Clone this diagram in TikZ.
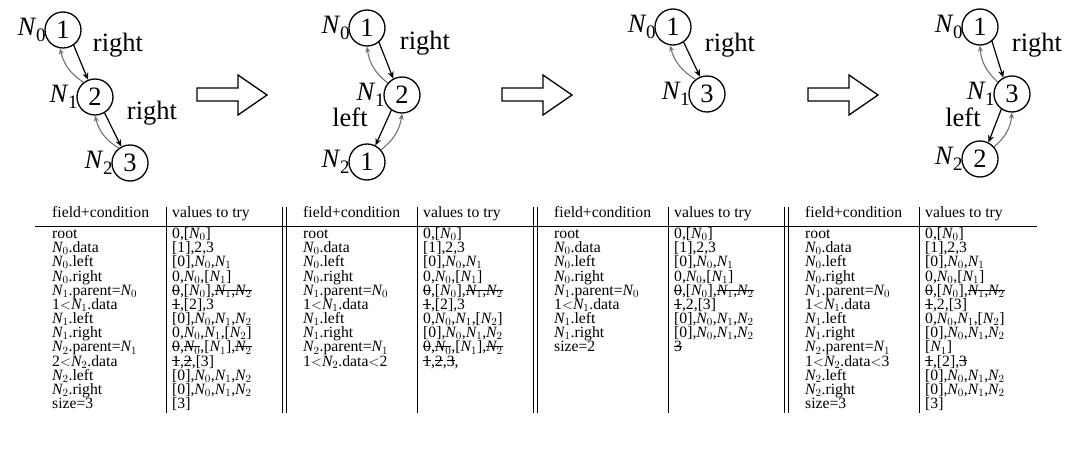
\documentclass[tikz,border=0pt]{standalone}
\usepackage{fontspec}
\setmainfont{Liberation Serif}
\usetikzlibrary{arrows.meta}
\newcommand\gfont{\fontsize{26.5}{30}\selectfont}
\newcommand\tfont{\fontsize{15.7}{17}\selectfont}
\newcommand\nn[1]{$\mathit{N}_{#1}$}
\newcommand\gn[1]{\textit{N}\kern-0.5pt\raisebox{-6pt}{\fontsize{19}{20}\selectfont #1}}
\newcommand\xo[1]{\setbox0=\hbox{#1}\rlap{\rule[0.3em]{\wd0}{0.06em}}\box0}
\tikzset{
  circ/.style={circle, draw, line width=1.3pt, minimum size=36pt, inner sep=0pt, font=\gfont},
  lab/.style={font=\gfont, inner sep=0pt},
  blk/.style={-{Stealth[length=7pt,width=6pt]}, line width=1.2pt},
  gry/.style={-{Stealth[length=6pt,width=5pt]}, line width=1.1pt, draw=black!55, fill=none},
  cell/.style={anchor=base west, inner sep=0pt, font=\tfont, text height=9.5pt, text depth=2.5pt},
  tabrule/.style={line width=0.8pt},
  bigarrow/.style={draw, line width=1.3pt, line join=miter},
}
\newcommand\tabblock[2]{%
  \node[cell] (h#1a) at (52+#1,218) {field+condition};
  \node[cell] (h#1b) at (172+#1,218) {values to try};
  \foreach \a/\b [count=\i from 0] in {#2} {
    \node[cell] (t#1r\i a) at (52+#1,238.5+14.17*\i) {\a};
    \node[cell] (t#1r\i b) at (172+#1,238.5+14.17*\i) {\b};
  }
}
\begin{document}
\begin{tikzpicture}[x=1pt,y=-1pt]
\useasboundingbox (0,0) rectangle (1072,473);
% ---------- graph 1
\node[circ] (a0) at (63,30) {1};
\node[circ] (a1) at (95,97) {2};
\node[circ] (a2) at (130,163) {3};
\node[lab,anchor=east] (a0l) at ([xshift=1.5pt]a0.west) {\gn0};
\node[lab,anchor=east] (a1l) at ([xshift=1.5pt]a1.west) {\gn1};
\node[lab,anchor=east] (a2l) at ([xshift=1.5pt]a2.west) {\gn2};
\node[lab] (a0r) at (118,45) {right};
\node[lab] (a1r) at (152,113) {right};
\draw[blk] (a0.-55) -- (a1.112);
\draw[gry] (a1.128) to[bend left=22] (a0.-99);
\draw[blk] (a1.-59) -- (a2.118);
\draw[gry] (a2.127) to[bend left=22] (a1.-90);
% ---------- graph 2
\node[circ] (b0) at (367,28) {1};
\node[circ] (b1) at (402,95) {2};
\node[circ] (b2) at (367,162) {1};
\node[lab,anchor=east] (b0l) at ([xshift=1.5pt]b0.west) {\gn0};
\node[lab,anchor=east] (b1l) at ([xshift=1.5pt]b1.west) {\gn1};
\node[lab,anchor=east] (b2l) at ([xshift=1.5pt]b2.west) {\gn2};
\node[lab] (b0r) at (425,43) {right};
\node[lab] (b1r) at (350,117) {left};
\draw[blk] (b0.-50) -- (b1.118);
\draw[gry] (b1.140) to[bend left=22] (b0.-90);
\draw[blk] (b1.-125) -- (b2.63);
\draw[gry] (b2.41) to[bend right=22] (b1.-90);
% ---------- graph 3
\node[circ] (c0) at (673,27) {1};
\node[circ] (c1) at (707,94) {3};
\node[lab,anchor=east] (c0l) at ([xshift=1.5pt]c0.west) {\gn0};
\node[lab,anchor=east] (c1l) at ([xshift=1.5pt]c1.west) {\gn1};
\node[lab] (c0r) at (730,45) {right};
\draw[blk] (c0.-55) -- (c1.112);
\draw[gry] (c1.128) to[bend left=22] (c0.-99);
% ---------- graph 4
\node[circ] (d0) at (980,27) {1};
\node[circ] (d1) at (1012,94) {3};
\node[circ] (d2) at (980,159) {2};
\node[lab,anchor=east] (d0l) at ([xshift=1.5pt]d0.west) {\gn0};
\node[lab,anchor=east] (d1l) at ([xshift=1.5pt]d1.west) {\gn1};
\node[lab,anchor=east] (d2l) at ([xshift=1.5pt]d2.west) {\gn2};
\node[lab] (d0r) at (1037,45) {right};
\node[lab] (d1r) at (963,117) {left};
\draw[blk] (d0.-50) -- (d1.118);
\draw[gry] (d1.140) to[bend left=22] (d0.-90);
\draw[blk] (d1.-125) -- (d2.63);
\draw[gry] (d2.41) to[bend right=22] (d1.-90);
% ---------- big arrows
\foreach \o in {197,502,808} {
  \draw[bigarrow] (\o,88) -- (\o+41,88) -- (\o+41,75) -- (\o+70,95) -- (\o+41,115) -- (\o+41,101) -- (\o,101) -- cycle;
}
% ---------- table rules
\draw[tabrule] (35,226) -- (1037,226);
\foreach \o in {0,251,502,753} { \draw[tabrule] (166+\o,207) -- (166+\o,413); }
\foreach \o in {0,251,502} {
  \draw[tabrule] (282+\o,207) -- (282+\o,413);
  \draw[tabrule] (286+\o,207) -- (286+\o,413);
}
% ---------- table text
\tabblock{0}{{root}/{0,[\nn0]},
{\nn0.data}/{[1],2,3},
{\nn0.left}/{[0],\nn0,\nn1},
{\nn0.right}/{0,\nn0,[\nn1]},
{\nn1.parent=\nn0}/{\xo{0},[\nn0],\xo{\nn1,\nn2}},
{1$<$\nn1.data}/{\xo{1},[2],3},
{\nn1.left}/{[0],\nn0,\nn1,\nn2},
{\nn1.right}/{0,\nn0,\nn1,[\nn2]},
{\nn2.parent=\nn1}/{\xo{0},\xo{\nn0},[\nn1],\xo{\nn2}},
{2$<$\nn2.data}/{\xo{1},\xo{2},[3]},
{\nn2.left}/{[0],\nn0,\nn1,\nn2},
{\nn2.right}/{[0],\nn0,\nn1,\nn2},
{size=3}/{[3]}}
\tabblock{251}{{root}/{0,[\nn0]},
{\nn0.data}/{[1],2,3},
{\nn0.left}/{[0],\nn0,\nn1},
{\nn0.right}/{0,\nn0,[\nn1]},
{\nn1.parent=\nn0}/{\xo{0},[\nn0],\xo{\nn1,\nn2}},
{1$<$\nn1.data}/{\xo{1},[2],3},
{\nn1.left}/{0,\nn0,\nn1,[\nn2]},
{\nn1.right}/{[0],\nn0,\nn1,\nn2},
{\nn2.parent=\nn1}/{\xo{0},\xo{\nn0},[\nn1],\xo{\nn2}},
{1$<$\nn2.data$<$2}/{\xo{1},\xo{2},\xo{3},}}
\tabblock{502}{{root}/{0,[\nn0]},
{\nn0.data}/{[1],2,3},
{\nn0.left}/{[0],\nn0,\nn1},
{\nn0.right}/{0,\nn0,[\nn1]},
{\nn1.parent=\nn0}/{\xo{0},[\nn0],\xo{\nn1,\nn2}},
{1$<$\nn1.data}/{\xo{1},2,[3]},
{\nn1.left}/{[0],\nn0,\nn1,\nn2},
{\nn1.right}/{[0],\nn0,\nn1,\nn2},
{size=2}/{\xo{3}}}
\tabblock{753}{{root}/{0,[\nn0]},
{\nn0.data}/{[1],2,3},
{\nn0.left}/{[0],\nn0,\nn1},
{\nn0.right}/{0,\nn0,[\nn1]},
{\nn1.parent=\nn0}/{\xo{0},[\nn0],\xo{\nn1,\nn2}},
{1$<$\nn1.data}/{\xo{1},2,[3]},
{\nn1.left}/{0,\nn0,\nn1,[\nn2]},
{\nn1.right}/{[0],\nn0,\nn1,\nn2},
{\nn2.parent=\nn1}/{[\nn1]},
{1$<$\nn2.data$<$3}/{\xo{1},[2],\xo{3}},
{\nn2.left}/{[0],\nn0,\nn1,\nn2},
{\nn2.right}/{[0],\nn0,\nn1,\nn2},
{size=3}/{[3]}}
\end{tikzpicture}
\end{document}
